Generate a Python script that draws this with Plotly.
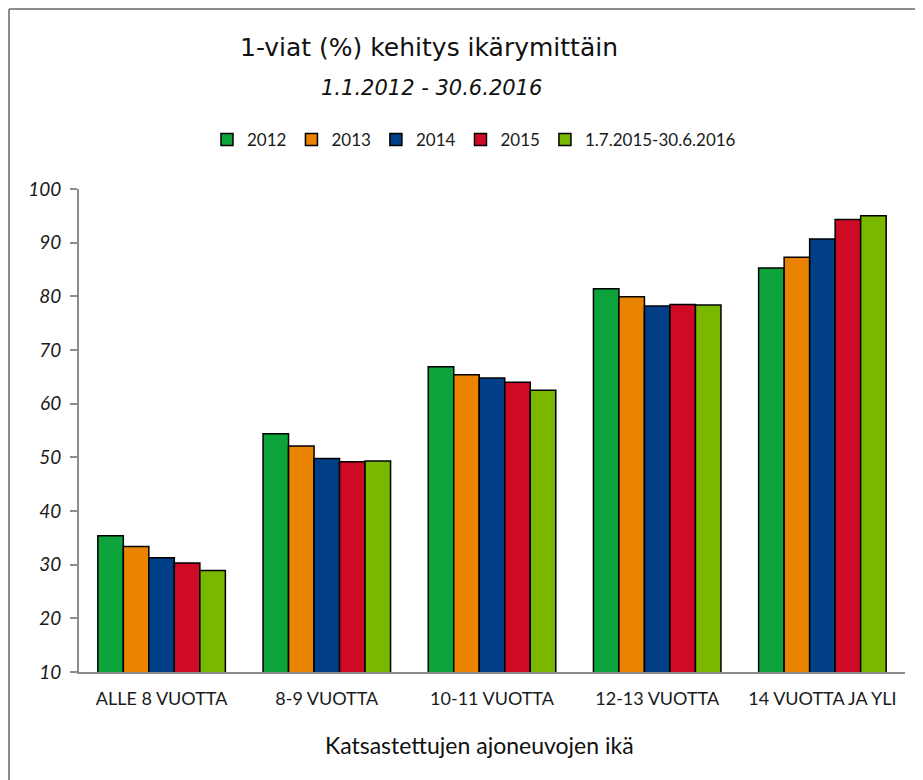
import plotly.graph_objects as go

categories = ["ALLE 8 VUOTTA", "8-9 VUOTTA", "10-11 VUOTTA", "12-13 VUOTTA", "14 VUOTTA JA YLI"]
series_names = ["2012", "2013", "2014", "2015", "1.7.2015-30.6.2016"]
v2012 = [35.4, 54.4, 66.9, 81.4, 85.3]
v2013 = [33.4, 52.1, 65.4, 79.9, 87.3]
v2014 = [31.3, 49.8, 64.8, 78.2, 90.7]
v2015 = [30.3, 49.2, 64.0, 78.5, 94.3]
v2016 = [28.9, 49.3, 62.5, 78.4, 95.0]
y_ticks = [10, 20, 30, 40, 50, 60, 70, 80, 90, 100]

colors = ["#0CA33A", "#E98300", "#003F87", "#CF0A25", "#7AB800"]
FONT = "Lato, Open Sans, sans-serif"
TFONT = "DejaVu Sans, Open Sans, sans-serif"

fig = go.Figure()
for name, vals, col in zip(series_names, [v2012, v2013, v2014, v2015, v2016], colors):
    fig.add_trace(go.Bar(x=categories, y=vals, name=name,
                         marker=dict(color=col, line=dict(color="#000000", width=1.5))))

W, H = 923, 780
OFF = 8  # page body offset
L, R, T, B = 71, 26, 181, 116
pw, ph = W - L - R, H - T - B

def px(xs):
    return (xs - OFF - L) / pw

def py(ys):
    return (H - B - (ys - OFF)) / ph

fig.update_layout(
    width=W, height=H,
    margin=dict(l=L, r=R, t=T, b=B),
    paper_bgcolor="white", plot_bgcolor="white",
    font=dict(family=FONT, color="#1a1a1a"),
    barmode="group", bargap=0.228, bargroupgap=0,
    showlegend=True,
    legend=dict(orientation="h", x=px(474), xanchor="center", y=py(140), yanchor="middle",
                font=dict(size=17, family=FONT), itemwidth=30, traceorder="normal"),
    title=dict(text="1-viat (%) kehitys ikärymittäin", x=(429 - OFF) / W, xanchor="center",
               y=1 - (47 - OFF) / H, yanchor="middle", font=dict(size=25, family=TFONT, color="#111")),
    xaxis=dict(showline=True, linecolor="#8c8c8c", linewidth=2, ticks="",
               tickfont=dict(size=18, family=FONT, color="#1a1a1a"), ticklabelstandoff=9,
               showgrid=False),
    yaxis=dict(range=[10, 100], tickvals=y_ticks, showline=True, linecolor="#8c8c8c", linewidth=2,
               ticks="outside", ticklen=7, tickcolor="#8c8c8c", tickwidth=2, showgrid=False,
               tickfont=dict(size=19, family=FONT, style="italic", color="#1a1a1a"),
               ticklabelstandoff=5, zeroline=False),
    annotations=[
        dict(text="1.1.2012 - 30.6.2016", xref="paper", yref="paper", x=px(431), y=py(88),
             xanchor="center", yanchor="middle", showarrow=False,
             font=dict(size=21, family=TFONT, style="italic", color="#111")),
        dict(text="Katsastettujen ajoneuvojen ikä", xref="paper", yref="paper", x=px(479), y=py(745),
             xanchor="center", yanchor="middle", showarrow=False,
             font=dict(size=23, family=FONT, color="#111")),
    ],
    shapes=[
        dict(type="line", xref="paper", yref="paper", x0=px(9), x1=px(940), y0=py(9), y1=py(9),
             line=dict(color="#8c8c8c", width=2)),
        dict(type="line", xref="paper", yref="paper", x0=px(9), x1=px(9), y0=py(9), y1=py(800),
             line=dict(color="#8c8c8c", width=2)),
    ],
)

fig.write_html("out.html")
